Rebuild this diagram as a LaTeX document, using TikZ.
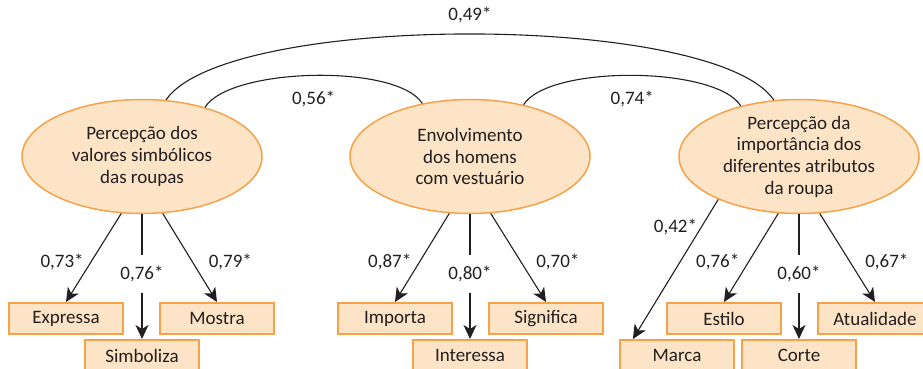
\documentclass[tikz,border=0pt]{standalone}
\usepackage{fontspec}
\setmainfont{Carlito}
\usetikzlibrary{arrows.meta,positioning,calc,shapes.geometric}
\definecolor{peach}{HTML}{FDE4C6}
\definecolor{edgeorange}{HTML}{F7A24A}
\definecolor{ink}{HTML}{231F20}
\begin{document}
\begin{tikzpicture}[x=0.5pt,y=-0.5pt,>={Stealth[length=7pt,width=6.5pt,inset=2pt]},
    every node/.style={font=\fontsize{9.5}{10.85}\selectfont,text=ink},
    factor/.style={ellipse,draw=edgeorange,fill=peach,line width=0.75pt,minimum width=120pt,minimum height=57pt,align=center,inner sep=-4pt},
    item/.style={rectangle,draw=edgeorange,fill=peach,line width=1pt,minimum width=57pt,minimum height=15.5pt,inner sep=0pt},
    link/.style={draw=ink,line width=0.55pt},
    gaplabel/.style={fill=white,inner xsep=1pt,inner ysep=5.5pt}]
            \useasboundingbox (0,0) rectangle (923,369);
            % latent factors
            \node [factor] (simb) at (142,156.5) {Percepção dos\\valores simbólicos\\das roupas};
            \node [factor] (envol) at (470,156.5) {Envolvimento\\dos homens\\com vestuário};
            \node [factor] (atrib) at (799,156.5) {Percepção da\\importância dos\\diferentes atributos\\da roupa};
            % observed items
            \node [item] (expressa) at (66,318.5) {Expressa};
            \node [item] (simboliza) at (142,355.5) {Simboliza};
            \node [item] (mostra) at (217,318.5) {Mostra};
            \node [item] (importa) at (395,318.5) {Importa};
            \node [item] (interessa) at (470,355.5) {Interessa};
            \node [item] (significa) at (546,318.5) {Significa};
            \node [item] (marca) at (677,355.5) {Marca};
            \node [item] (estilo) at (724,318.5) {Estilo};
            \node [item] (corte) at (799,355.5) {Corte};
            \node [item] (atualidade) at (875,318.5) {Atualidade};
            % correlations
            \draw [link] (simb.38) .. controls +(25,-40) and +(-25,-40) .. (envol.132) node [pos=0.5,below=4pt] (r56) {0,56*};
            \draw [link] (envol.44) .. controls +(25,-40) and +(-25,-40) .. (atrib.139) node [pos=0.5,below=4pt] (r74) {0,74*};
            \draw [link] (simb.67) .. controls +(60,-88) and +(-60,-88) .. (atrib.114) node [pos=0.5,above=2pt] (r49) {0,49*};
            % loadings
            \draw [->,link] (simb.250) -- (expressa.north) node [pos=0.55,left=0pt] (l73) {0,73*};
            \draw [->,link] (simb.south) -- (simboliza.north) node [pos=0.48,gaplabel] (l76a) {0,76*};
            \draw [->,link] (simb.290) -- (mostra.north) node [pos=0.55,right=4.5pt] (l79) {0,79*};
            \draw [->,link] (envol.250) -- (importa.north) node [pos=0.55,left=0.5pt] (l87) {0,87*};
            \draw [->,link] (envol.south) -- (interessa.north) node [pos=0.48,gaplabel] (l80) {0,80*};
            \draw [->,link] (envol.290) -- (significa.north) node [pos=0.55,right=4pt] (l70) {0,70*};
            \draw [->,link] (atrib.208) -- ($(marca.north west)!0.12!(marca.north east)$) node [pos=0.2,left=-1.5pt] (l42) {0,42*};
            \draw [->,link] (atrib.250) -- (estilo.north) node [pos=0.55,left=1pt] (l76b) {0,76*};
            \draw [->,link] (atrib.south) -- (corte.north) node [pos=0.48,gaplabel] (l60) {0,60*};
            \draw [->,link] (atrib.290) -- (atualidade.north) node [pos=0.55,right=4pt] (l67) {0,67*};
\end{tikzpicture}
\end{document}
